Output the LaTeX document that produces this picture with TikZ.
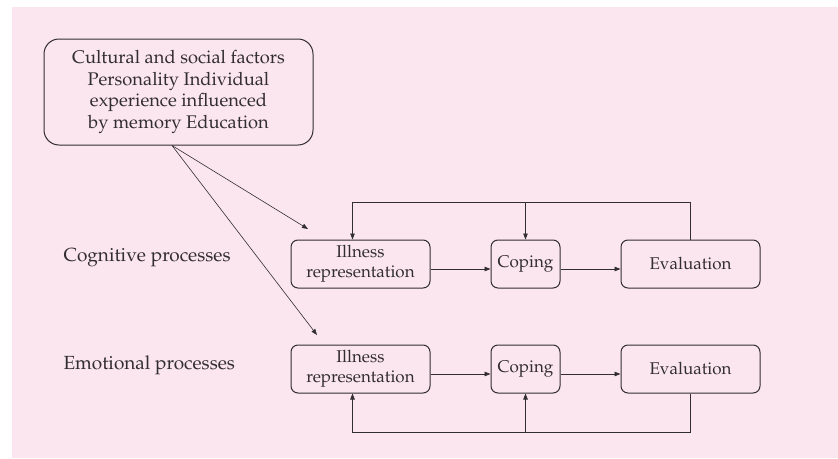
\documentclass[tikz,border=0pt]{standalone}
\usepackage[T1]{fontenc}
\usepackage{mathpazo}
\usepackage{xcolor}
\usepackage{tikz}
\usetikzlibrary{arrows.meta}

\definecolor{pinkbg}{RGB}{251,230,240}
\definecolor{inkgray}{RGB}{50,45,48}

\tikzset{
  stage/.style={draw=inkgray,line width=1pt,rounded corners=7pt,align=center,
    minimum height=48pt,inner sep=2pt,font=\fontsize{17}{20}\selectfont},
  link/.style={draw=inkgray,line width=0.75pt},
  arr/.style={link,-{Triangle[length=6pt,width=4.5pt]}}
}

\begin{document}
\begin{tikzpicture}[x=1pt,y=-1pt,font=\fontsize{19}{21.5}\selectfont,text=inkgray]
\useasboundingbox (0,0) rectangle (838,458);
\fill[pinkbg] (12,7) rectangle (838,458);
% factors box
\node[stage,rounded corners=15pt,minimum width=269pt,minimum height=106pt,
  font=\fontsize{18.3}{21.5}\selectfont] (factors) at (178.5,92)
  {Cultural and social factors\\Personality Individual\\experience influenced\\by memory Education};
% row labels
\node[anchor=west] (cog) at (60,258) {Cognitive processes};
\node[anchor=west] (emo) at (60,365) {Emotional processes};
% cognitive row
\node[stage,minimum width=139pt] (ill1) at (360.5,264) {Illness\\representation};
\node[stage,minimum width=69pt] (cop1) at (525.5,264) {Coping};
\node[stage,minimum width=139pt] (eva1) at (690.5,264) {Evaluation};
% emotional row
\node[stage,minimum width=139pt] (ill2) at (360.5,369) {Illness\\representation};
\node[stage,minimum width=69pt] (cop2) at (525.5,369) {Coping};
\node[stage,minimum width=139pt] (eva2) at (690.5,369) {Evaluation};
% forward arrows
\draw[arr] ([yshift=-5pt]ill1.east) -- ([yshift=-5pt]cop1.west);
\draw[arr] ([yshift=-5pt]cop1.east) -- ([yshift=-5pt]eva1.west);
\draw[arr] ([yshift=-5pt]ill2.east) -- ([yshift=-5pt]cop2.west);
\draw[arr] ([yshift=-5pt]cop2.east) -- ([yshift=-5pt]eva2.west);
% feedback loops
\coordinate (fbtop) at (525.5,202);
\coordinate (fbbot) at (525.5,432);
\draw[link] (eva1.north) |- (fbtop);
\draw[arr] (fbtop) -- (cop1.north);
\draw[arr] (fbtop) -| ([xshift=-8pt]ill1.north);
\draw[link] (eva2.south) |- (fbbot);
\draw[arr] (fbbot) -- (cop2.south);
\draw[arr] (fbbot) -| ([xshift=-8pt]ill2.south);
% influence arrows
\coordinate (src) at ([xshift=-6.5pt]factors.south);
\coordinate (tgt1) at (308,229);
\coordinate (tgt2) at (317,335);
\draw[arr,line width=0.6pt] (src) -- (tgt1);
\draw[arr,line width=0.6pt] (src) -- (tgt2);
\end{tikzpicture}
\end{document}
